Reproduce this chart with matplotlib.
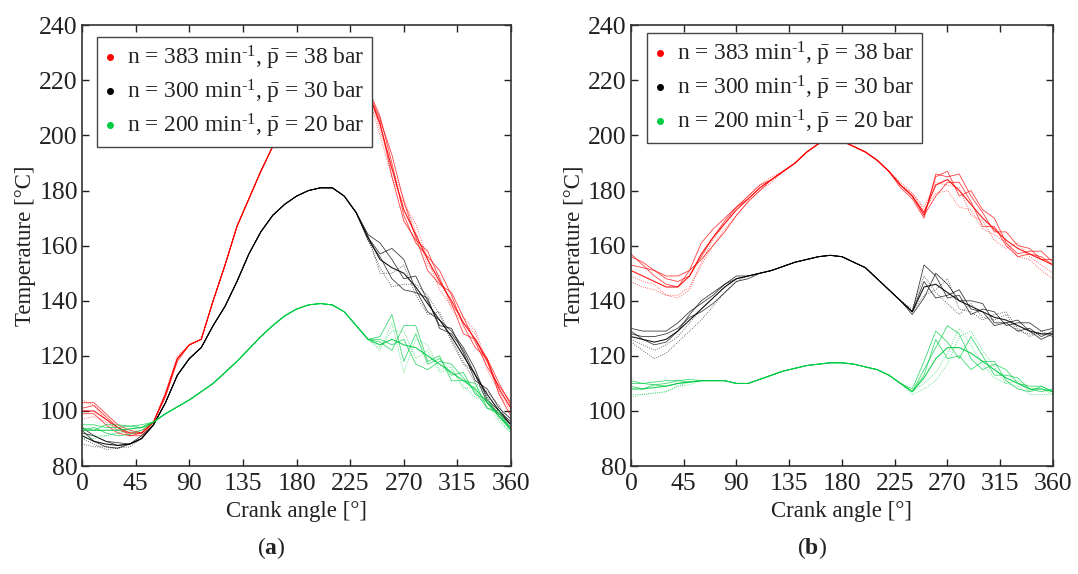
import matplotlib
matplotlib.use("Agg")
import matplotlib.pyplot as plt
import numpy as np
from matplotlib.lines import Line2D

plt.rcParams["font.family"] = ["Liberation Serif", "DejaVu Serif"]
plt.rcParams["mathtext.fontset"] = "custom"
plt.rcParams["mathtext.rm"] = "Liberation Serif"
plt.rcParams["mathtext.it"] = "Liberation Serif:italic"
plt.rcParams["mathtext.bf"] = "Liberation Serif:bold"

# Crank angle grid [deg]
angle = list(range(0, 361, 10))

labels = [r"n = 383 min$^{\text{-1}}$, $\bar{\mathrm{p}}$ = 38 bar",
          r"n = 300 min$^{\text{-1}}$, $\bar{\mathrm{p}}$ = 30 bar",
          r"n = 200 min$^{\text{-1}}$, $\bar{\mathrm{p}}$ = 20 bar"]
colors = ["#ff0000", "#000000", "#00cc44"]

# ---- panel (a): mean curves [degC] and cycle deviations
red_a = [100, 100, 97, 94, 92, 92, 96, 106, 119, 124,
         126, 140, 153, 167, 177, 187, 196, 206, 215, 222,
         227, 229, 227, 222, 216, 204, 188, 173, 164, 155,
         147, 140, 132, 126, 118, 108, 101]
red_a_dev = [
    [3, 3, 2, 1, 1, 0, 0, 0, 0, 0, 0, 0, 0, 0, 0, 0, 0, 0, 0, 0, 0, 0, 0, 0, 1, 3, 2, -2, -3, 1, 4, 2, -1, -3, 1, 2, 1],
    [-3, -2, -1, -1, 0, 0, 0, 0, 0, 0, 0, 0, 0, 0, 0, 0, 0, 0, 0, 0, 0, 0, 0, 0, -1, -4, -3, 2, 4, 0, -3, -2, 2, 3, 0, -2, -1],
    [1, 2, 1, 0, -1, -1, 0, 0, 0, 0, 0, 0, 0, 0, 0, 0, 0, 0, 0, 0, 0, 0, 0, 0, 0, 2, 5, 3, -1, -4, -1, 3, 2, -1, -2, 1, 2],
    [4, 2, 0, -1, 0, 1, 0, 1, 1, 0, 0, 0, 0, 0, 0, 0, 0, 0, 0, 0, 0, 0, 0, 0, 1, -2, 0, 4, 1, -2, 2, -3, 0, 2, -3, -1, 0],
    [-1, -1, -2, -2, -1, 0, 0, -1, -1, 0, 0, 0, 0, 0, 0, 0, 0, 0, 0, 0, 0, 0, 0, 0, -1, 1, -3, -4, -2, 3, 1, -1, -4, 0, 1, -2, -3],
]
black_a = [91, 89, 88, 87.5, 88, 90, 95, 103, 113, 119,
           123, 131, 138, 147, 157, 165, 171, 175, 178, 180,
           181, 181, 178, 172, 163, 155, 152, 150, 145, 139,
           133, 127, 120, 113, 106, 100, 95]
black_a_dev = [
    [3, 2, 1, 0, 0, 0, 0, 0, 0, 0, 0, 0, 0, 0, 0, 0, 0, 0, 0, 0, 0, 0, 0, 0, 1, 6, 3, -2, 4, 1, -2, 3, 1, -2, 2, 1, 2],
    [-3, -2, -1, -1, -1, 0, 0, 0, 0, 0, 0, 0, 0, 0, 0, 0, 0, 0, 0, 0, 0, 0, 0, 0, -1, -3, -7, -4, 1, 3, 2, -2, -3, 1, -1, -2, -1],
    [1, 2, 1, 1, 0, 0, 0, 0, 0, 0, 0, 0, 0, 0, 0, 0, 0, 0, 0, 0, 0, 0, 0, 0, 0, 2, 7, 5, -1, -3, 0, 2, 3, 2, -2, 0, 1],
    [-1, -1, -2, -1, 0, 0, 0, 0, 0, 0, 0, 0, 0, 0, 0, 0, 0, 0, 0, 0, 0, 0, 0, 0, 1, -5, -2, 3, -3, -4, 3, -1, -2, -3, 1, 2, -2],
    [2, 0, -1, -1, 0, 1, 0, 0, 0, 0, 0, 0, 0, 0, 0, 0, 0, 0, 0, 0, 0, 0, 0, 0, -1, 1, -4, -6, -2, 2, -3, 1, 2, 0, -3, -1, 0],
]
green_a = [93, 93, 93, 93, 93.5, 94, 96, 99, 101.5, 104,
           107, 110, 114, 118, 122.5, 127, 131, 134.5, 137, 138.5,
           139, 138.5, 136, 131, 126, 124, 126, 124, 123, 120,
           117, 114, 111, 108, 103, 98, 93]
green_a_dev = [
    [2, 2, 1, 1, 1, 0, 0, 0, 0, 0, 0, 0, 0, 0, 0, 0, 0, 0, 0, 0, 0, 0, 0, 0, 0, 3, 9, -6, 5, -3, 2, -1, 3, -2, 1, 0, 1],
    [-2, -2, -2, -1, -1, -1, 0, 0, 0, 0, 0, 0, 0, 0, 0, 0, 0, 0, 0, 0, 0, 0, 0, 0, 0, -2, 6, -10, 3, 4, -2, 2, -3, 1, 2, -1, -1],
    [1, 0, 2, 2, 1, 1, 0, 0, 0, 0, 0, 0, 0, 0, 0, 0, 0, 0, 0, 0, 0, 0, 0, 0, 0, 1, -4, 7, 8, -2, 3, -3, 0, 2, -2, 1, 0],
    [-3, -3, -2, -1, 0, 0, 0, 0, 0, 0, 0, 0, 0, 0, 0, 0, 0, 0, 0, 0, 0, 0, 0, 0, 0, -1, 3, 5, -4, 2, -3, 1, -2, -3, 0, -2, -1],
    [0, 1, -1, -2, -2, -1, 0, 0, 0, 0, 0, 0, 0, 0, 0, 0, 0, 0, 0, 0, 0, 0, 0, 0, 0, 2, -2, 2, -6, -5, 1, 3, 1, -1, -2, 2, 0],
]

# ---- panel (b)
red_b = [151, 149, 147, 145, 145, 149, 157, 163, 168, 173,
         177, 181, 184, 187, 190, 194, 197, 200, 198, 196,
         194, 191, 187, 182, 178, 172, 182, 184, 180, 175,
         170, 166, 162, 159, 157, 155, 153]
red_b_dev = [
    [5, 5, 4, 4, 4, 2, -2, -3, -3, -2, -1, -1, 0, 0, 0, 0, 0, 0, 0, 0, 0, 0, 0, -1, -1, -2, 4, 1, 6, 3, 2, -1, 3, 1, 2, 0, 2],
    [-4, -4, -3, -3, -3, -4, -4, -3, -2, -2, -1, -1, -1, 0, 0, 0, 0, 0, 0, 0, 0, 0, 0, 1, 1, 1, -3, -4, -6, -2, -4, -2, -1, -3, -2, -4, -5],
    [2, 3, 4, 3, 2, 0, -1, 0, 1, 1, 1, 1, 0, 0, 0, 0, 0, 0, 0, 0, 0, 0, 0, 0, 0, -1, 3, 3, -2, 5, 3, 4, -1, -2, 1, 3, 1],
    [-2, -2, -1, -3, -4, -5, -3, -1, 0, 1, 1, 1, 1, 0, 0, 0, 0, 0, 0, 0, 0, 0, 0, 0, 1, 2, 1, -2, 1, -4, -1, -4, -3, 2, -1, -2, -3],
    [6, 4, 2, 1, 0, 2, 4, 3, 2, 1, 0, 0, 0, 0, 0, 0, 0, 0, 0, 0, 0, 0, 0, 0, 0, -1, -4, -1, 3, 1, -3, 1, -2, -3, 0, 1, 0],
]
black_b = [127, 126, 125, 126, 129, 133, 137, 141, 145, 148,
           149, 150, 151, 152.5, 154, 155, 156, 156.5, 156, 154,
           152, 148, 144, 140, 136, 145, 146, 143, 140, 138,
           136, 134, 133, 131, 129, 128, 128]
black_b_dev = [
    [3, 3, 4, 3, 3, 3, 2, 1, 1, 0, 0, 0, 0, 0, 0, 0, 0, 0, 0, 0, 0, 0, 0, 0, 0, 8, 3, -2, 2, -3, 1, 2, -2, 1, 3, 1, 2],
    [-2, -4, -6, -5, -4, -4, -4, -3, -2, -1, 0, 0, 0, 0, 0, 0, 0, 0, 0, 0, 0, 0, 0, 0, 1, 4, -3, -4, -5, 1, -2, -1, 2, -2, -1, 0, -1],
    [1, 1, 2, 2, 1, 1, -1, -2, -2, -1, -1, 0, 0, 0, 0, 0, 0, 0, 0, 0, 0, 0, 0, 0, -1, -4, 4, 3, 0, 2, 3, -2, -1, 2, 0, -2, 0],
    [-1, -2, -3, -2, -2, -1, 0, 0, 0, 0, 0, 0, 0, 0, 0, 0, 0, 0, 0, 0, 0, 0, 0, 0, 0, -3, -2, 5, -3, -2, -3, 1, 3, -1, -2, 1, -1],
    [2, 0, -1, -1, 0, 2, 3, 2, 1, 1, 0, 0, 0, 0, 0, 0, 0, 0, 0, 0, 0, 0, 0, 0, 0, 2, -5, -1, 4, -1, 0, -3, -1, -2, 1, -1, 1],
]
green_b = [108, 108, 108.5, 109, 110, 110.5, 111, 111, 111, 110,
           110, 111.5, 113, 114.5, 115.5, 116.5, 117, 117.5, 117.5, 117,
           116, 115, 113, 110, 107, 112, 119, 123, 123, 121,
           118, 115, 112, 110, 108, 108, 107]
green_b_dev = [
    [2, 2, 2, 2, 1, 1, 0, 0, 0, 0, 0, 0, 0, 0, 0, 0, 0, 0, 0, 0, 0, 0, 0, 0, 1, 6, 10, 2, -4, 6, 2, -2, 1, 2, 0, -1, 1],
    [-2, -2, -2, -2, -1, 0, 0, 0, 0, 0, 0, 0, 0, 0, 0, 0, 0, 0, 0, 0, 0, 0, 0, 0, -1, -4, -8, -6, 4, 8, 4, 1, -2, -1, -2, -2, -1],
    [1, 0, 1, 0, 0, 0, 0, 0, 0, 0, 0, 0, 0, 0, 0, 0, 0, 0, 0, 0, 0, 0, 0, 0, 0, 3, 4, 8, 5, -2, -3, 2, 3, 0, 1, 1, 0],
    [-3, -2, -2, -2, -1, -1, 0, 0, 0, 0, 0, 0, 0, 0, 0, 0, 0, 0, 0, 0, 0, 0, 0, 0, 0, -2, -5, -2, 7, 3, -1, -3, -2, 1, -1, 0, -1],
    [3, 2, 1, 1, 1, 0, 0, 0, 0, 0, 0, 0, 0, 0, 0, 0, 0, 0, 0, 0, 0, 0, 0, 0, 0, 1, 7, -4, -3, -6, 0, 3, -1, -2, -1, 1, 0],
]

x_ticks = [0, 45, 90, 135, 180, 225, 270, 315, 360]
y_ticks = [80, 100, 120, 140, 160, 180, 200, 220, 240]


def draw_panel(ax, series, legend_anchor):
    for (base, devs), color in zip(series, colors):
        base = np.array(base, dtype=float)
        ax.plot(angle, base, color=color, lw=0.8, alpha=0.9)
        for i, dev in enumerate(devs):
            ax.plot(angle, base + np.array(dev), color=color, lw=0.6,
                    ls=":" if i % 2 else "-", alpha=0.75)

    ax.set_xlim(0, 360)
    ax.set_ylim(80, 240)
    ax.set_xticks(x_ticks)
    ax.set_yticks(y_ticks)
    ax.tick_params(direction="in", top=True, right=True, length=5, width=1,
                   labelsize=18.5, colors="#222222")
    ax.tick_params(axis="x", pad=5)
    ax.tick_params(axis="y", pad=3)
    for s in ax.spines.values():
        s.set_linewidth(1.2)
        s.set_color("#333333")
    ax.set_xlabel("Crank angle [°]", fontsize=16.5, labelpad=4, color="#222222")
    ax.set_ylabel("Temperature [°C]", fontsize=16.5, labelpad=2, color="#222222")

    handles = [Line2D([], [], ls="", marker="o", ms=4, color=c) for c in colors]
    leg = ax.legend(handles, labels, loc="upper left", bbox_to_anchor=legend_anchor,
                    borderaxespad=0, fancybox=False, framealpha=1, edgecolor="#444444",
                    fontsize=16.8, handlelength=0.5, handletextpad=0.5,
                    labelspacing=0.25, borderpad=0.3)
    leg.get_frame().set_linewidth(1.0)
    for t in leg.get_texts():
        t.set_color("#222222")


fig = plt.figure(figsize=(10.78, 5.74), dpi=100)
ax_a = fig.add_axes([0.0761, 0.188, 0.398, 0.768])
ax_b = fig.add_axes([0.5853, 0.188, 0.3915, 0.768])

draw_panel(ax_a, [(red_a, red_a_dev), (black_a, black_a_dev), (green_a, green_a_dev)], (0.035, 0.973))
draw_panel(ax_b, [(red_b, red_b_dev), (black_b, black_b_dev), (green_b, green_b_dev)], (0.038, 0.982))

fig.text(0.252, 0.045, r"($\mathbf{a}$)", fontsize=17, ha="center", va="center", color="#222222")
fig.text(0.753, 0.045, r"($\mathbf{b}$)", fontsize=17, ha="center", va="center", color="#222222")

fig.savefig("out.png", dpi=100)
